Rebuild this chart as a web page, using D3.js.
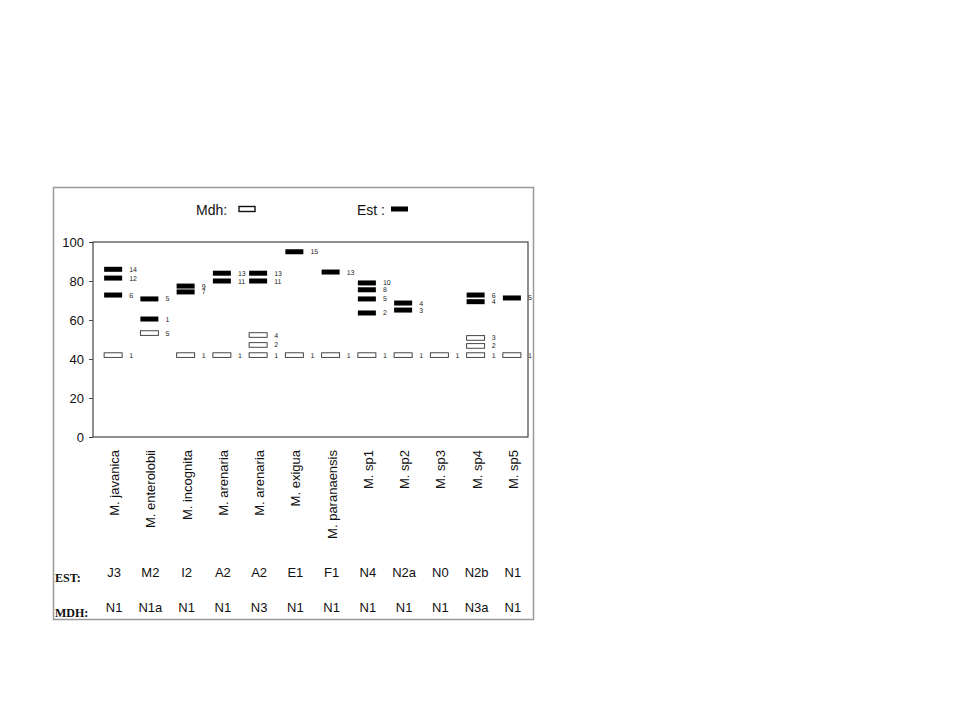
<!DOCTYPE html>
<html><head><meta charset="utf-8">
<script src="https://cdn.jsdelivr.net/npm/d3@7"></script>
<style>body{margin:0;background:#fff}</style></head>
<body><svg id="c" width="960" height="720"></svg>
<script>
const species = ["M. javanica","M. enterolobii","M. incognita","M. arenaria","M. arenaria","M. exigua","M. paranaensis","M. sp1","M. sp2","M. sp3","M. sp4","M. sp5"];
const estCodes = ["J3","M2","I2","A2","A2","E1","F1","N4","N2a","N0","N2b","N1"];
const mdhCodes = ["N1","N1a","N1","N1","N3","N1","N1","N1","N1","N1","N3a","N1"];
// Est bands: [speciesIndex, value, label]
const estBands = [
 [0,86,"14"],[0,81.5,"12"],[0,72.8,"6"],
 [1,70.8,"5"],[1,60.5,"1"],
 [2,77.4,"9"],[2,74.4,"7"],
 [3,84,"13"],[3,80,"11"],
 [4,84,"13"],[4,80,"11"],
 [5,95,"15"],
 [6,84.6,"13"],
 [7,79,"10"],[7,75.5,"8"],[7,70.8,"5"],[7,63.6,"2"],
 [8,68.7,"4"],[8,65.1,"3"],
 [10,72.8,"6"],[10,69.4,"4"],
 [11,71.3,"5"]
];
const mdhBands = [
 [0,42,"1"],[1,53.3,"5"],[2,42,"1"],[3,42,"1"],[4,42,"1"],[4,47.2,"2"],[4,52.3,"4"],
 [5,42,"1"],[6,42,"1"],[7,42,"1"],[8,42,"1"],[9,42,"1"],[10,42,"1"],[10,46.7,"2"],[10,50.8,"3"],[11,42,"1"]
];
const yTicks = [0,20,40,60,80,100];

const svg = d3.select("#c");
svg.append("rect").attr("x",53.5).attr("y",187.5).attr("width",480).attr("height",432)
  .attr("fill","#fff").attr("stroke","#999").attr("stroke-width",1.5);
const L=93,R=528,T=242,B=437;
const x = d3.scaleBand().domain(d3.range(species.length)).range([L,R]);
const y = d3.scaleLinear().domain([0,100]).range([B,T]);
svg.append("rect").attr("x",L).attr("y",T).attr("width",R-L).attr("height",B-T)
  .attr("fill","none").attr("stroke","#444").attr("stroke-width",1.2);
const ya = svg.append("g").attr("transform",`translate(${L},0)`)
  .call(d3.axisLeft(y).tickValues(yTicks).tickSize(4).tickSizeOuter(0));
ya.select(".domain").remove();
ya.selectAll("line").attr("stroke","#444");
ya.selectAll("text").attr("font-family","Liberation Sans, Arial").attr("font-size",13).attr("fill","#111").attr("dx",-2);

const bw=18, bx=i=>x(i)+x.bandwidth()/2-7;
svg.selectAll(".est").data(estBands).enter().append("rect")
  .attr("x",d=>bx(d[0])).attr("y",d=>y(d[1])-2.5).attr("width",bw).attr("height",5).attr("fill","#000");
svg.selectAll(".mdh").data(mdhBands).enter().append("rect")
  .attr("x",d=>bx(d[0])).attr("y",d=>y(d[1])-2.3).attr("width",bw).attr("height",4.6)
  .attr("fill","#fff").attr("stroke","#333").attr("stroke-width",0.9);
svg.selectAll(".bl").data(estBands.concat(mdhBands)).enter().append("text")
  .attr("x",d=>bx(d[0])+bw+7).attr("y",d=>y(d[1])+2.5).text(d=>d[2])
  .attr("font-family","Liberation Sans, Arial").attr("font-size",7).attr("fill","#222")
  .style("text-rendering","geometricPrecision");

svg.selectAll(".sp").data(species).enter().append("text")
  .attr("transform",(d,i)=>`translate(${x(i)+x.bandwidth()/2+8},450) rotate(-90)`)
  .attr("text-anchor","end").text(d=>d)
  .attr("font-family","Liberation Sans, Arial").attr("font-size",13).attr("fill","#111");
svg.selectAll(".ec").data(estCodes).enter().append("text")
  .attr("x",(d,i)=>x(i)+x.bandwidth()/2+3).attr("y",577).attr("text-anchor","middle").text(d=>d)
  .attr("font-family","Liberation Sans, Arial").attr("font-size",13).attr("fill","#111");
svg.selectAll(".mc").data(mdhCodes).enter().append("text")
  .attr("x",(d,i)=>x(i)+x.bandwidth()/2+3).attr("y",612).attr("text-anchor","middle").text(d=>d)
  .attr("font-family","Liberation Sans, Arial").attr("font-size",13).attr("fill","#111");
svg.append("text").attr("x",55).attr("y",582).text("EST:").attr("font-family","Liberation Serif").attr("font-weight","bold").attr("font-size",12).attr("fill","#111");
svg.append("text").attr("x",55).attr("y",617).text("MDH:").attr("font-family","Liberation Serif").attr("font-weight","bold").attr("font-size",12).attr("fill","#111");

svg.append("text").attr("x",196).attr("y",215).text("Mdh:").attr("font-family","Liberation Sans, Arial").attr("font-size",14).attr("fill","#111");
svg.append("rect").attr("x",239).attr("y",206.5).attr("width",16).attr("height",5).attr("fill","#fff").attr("stroke","#111").attr("stroke-width",1.4);
svg.append("text").attr("x",357).attr("y",215).text("Est :").attr("font-family","Liberation Sans, Arial").attr("font-size",14).attr("fill","#111");
svg.append("rect").attr("x",391).attr("y",206.5).attr("width",17).attr("height",5).attr("fill","#000");
</script></body></html>
